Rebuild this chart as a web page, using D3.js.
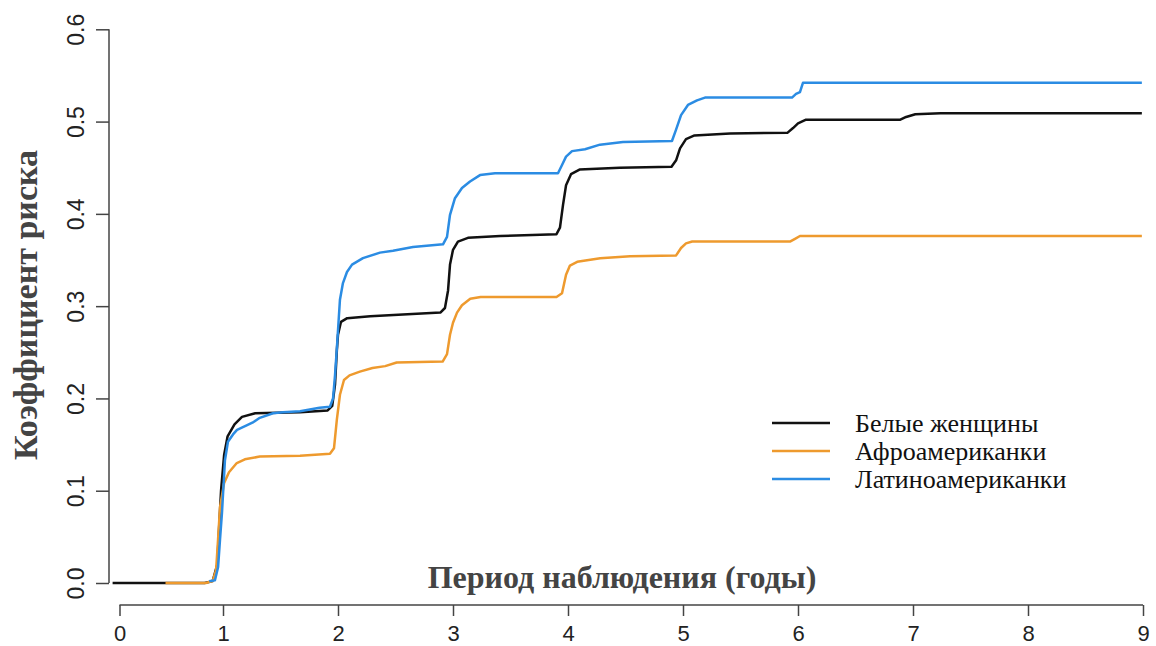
<!DOCTYPE html>
<html>
<head>
<meta charset="utf-8">
<script src="https://cdn.jsdelivr.net/npm/d3@7"></script>
<style>
  body { margin: 0; background: #fff; }
  svg { display: block; }
</style>
</head>
<body>
<svg id="chart"></svg>
<script>
// series names + colours (legend order)
const seriesNames = ["Белые женщины", "Афроамериканки", "Латиноамериканки"];
const seriesColors = ["#111111", "#ee9a2e", "#2b8ce3"];

// tick labels
const xTicks = [0, 1, 2, 3, 4, 5, 6, 7, 8, 9];
const yTicks = [0, 0.1, 0.2, 0.3, 0.4, 0.5, 0.6];

// [years, risk]
const whiteWomen = [
  [0.04, 0], [0.84, 0], [0.91, 0.002], [0.95, 0.02], [0.965, 0.057], [0.983, 0.10],
  [1.01, 0.139], [1.04, 0.159], [1.10, 0.172], [1.165, 0.18], [1.28, 0.184], [1.67, 0.185],
  [1.91, 0.187], [1.95, 0.192], [1.974, 0.215], [1.99, 0.252], [2.0, 0.269], [2.026, 0.283],
  [2.08, 0.287], [2.28, 0.289], [2.89, 0.293], [2.93, 0.298], [2.957, 0.317], [2.974, 0.345],
  [3.0, 0.361], [3.043, 0.37], [3.13, 0.374], [3.41, 0.376], [3.90, 0.378], [3.93, 0.385],
  [3.957, 0.41], [3.983, 0.431], [4.026, 0.443], [4.10, 0.448], [4.45, 0.45], [4.90, 0.451],
  [4.94, 0.458], [4.974, 0.471], [5.026, 0.481], [5.10, 0.485], [5.41, 0.487], [5.91, 0.488],
  [5.957, 0.493], [6.0, 0.498], [6.07, 0.502], [6.89, 0.502], [6.94, 0.505], [7.02, 0.508],
  [7.24, 0.509], [8.99, 0.509]
];

const africanAmerican = [
  [0.50, 0], [0.85, 0], [0.91, 0.002], [0.94, 0.014], [0.957, 0.047], [0.974, 0.082],
  [1.009, 0.108], [1.052, 0.12], [1.12, 0.13], [1.19, 0.134], [1.32, 0.137], [1.67, 0.138],
  [1.93, 0.14], [1.965, 0.146], [1.99, 0.177], [2.017, 0.204], [2.052, 0.22], [2.10, 0.225],
  [2.19, 0.229], [2.30, 0.233], [2.41, 0.235], [2.51, 0.239], [2.91, 0.24], [2.948, 0.248],
  [2.974, 0.269], [3.0, 0.282], [3.035, 0.293], [3.078, 0.301], [3.15, 0.308], [3.24, 0.31],
  [3.90, 0.31], [3.948, 0.314], [3.983, 0.334], [4.017, 0.344], [4.08, 0.348], [4.28, 0.352],
  [4.54, 0.354], [4.94, 0.355], [4.983, 0.363], [5.026, 0.368], [5.08, 0.37], [5.93, 0.37],
  [5.974, 0.373], [6.017, 0.376], [8.99, 0.376]
];

const hispanic = [
  [0.88, 0.002], [0.93, 0.003], [0.957, 0.017], [0.974, 0.047], [0.991, 0.076], [1.017, 0.133],
  [1.043, 0.153], [1.087, 0.161], [1.122, 0.166], [1.21, 0.171], [1.26, 0.174], [1.32, 0.179],
  [1.435, 0.184], [1.52, 0.185], [1.67, 0.186], [1.84, 0.19], [1.93, 0.191], [1.957, 0.2],
  [1.974, 0.225], [1.991, 0.256], [2.017, 0.307], [2.043, 0.325], [2.078, 0.337], [2.122, 0.345],
  [2.217, 0.352], [2.365, 0.358], [2.478, 0.36], [2.652, 0.364], [2.913, 0.367], [2.948, 0.375],
  [2.974, 0.399], [3.017, 0.417], [3.078, 0.428], [3.148, 0.435], [3.235, 0.442], [3.365, 0.444],
  [3.913, 0.444], [3.948, 0.453], [3.983, 0.462], [4.035, 0.468], [4.148, 0.47], [4.278, 0.475],
  [4.478, 0.478], [4.904, 0.479], [4.939, 0.491], [4.983, 0.507], [5.043, 0.518], [5.122, 0.523],
  [5.191, 0.526], [5.948, 0.526], [5.983, 0.53], [6.017, 0.532], [6.043, 0.542], [8.99, 0.542]
];

const allSeries = [whiteWomen, africanAmerican, hispanic];

const width = 1156;
const height = 646;

const svg = d3.select("#chart").attr("width", width).attr("height", height);

// scales
const x = d3.scaleLinear().domain([0, 9]).range([108, 1143]);
// the bottom axis in the picture has its "0" tick nudged right
const xAxisScale = d3.scaleLinear().domain([0, 1, 9]).range([119.5, 223, 1143]);
const y = d3.scaleLinear().domain([0, 0.6]).range([583, 29.3]);

const axisColor = "#444";

// Y axis
const yAxis = svg.append("g")
  .attr("transform", "translate(109,0)")
  .call(d3.axisLeft(y).tickValues(yTicks).tickFormat(d3.format(".1f")).tickSize(13).tickPadding(0));
yAxis.select(".domain").attr("stroke", axisColor).attr("stroke-width", 1.5).attr("d", `M0,${y(0)}V${y(0.6)}`);
yAxis.selectAll(".tick line").attr("stroke", axisColor).attr("stroke-width", 1.5);
yAxis.selectAll(".tick text")
  .attr("transform", "rotate(-90)")
  .attr("x", 0).attr("y", -25).attr("dy", 0)
  .attr("text-anchor", "middle")
  .style("font-family", "'Liberation Sans', Arial, sans-serif")
  .style("font-size", "23px")
  .attr("fill", "#222");

// X axis
const xAxis = svg.append("g")
  .attr("transform", "translate(0,605)")
  .call(d3.axisBottom(xAxisScale).tickValues(xTicks).tickFormat(d3.format("d")).tickSize(11).tickPadding(0));
xAxis.select(".domain").attr("stroke", axisColor).attr("stroke-width", 1.5)
  .attr("d", `M${xAxisScale(0)},0H${xAxisScale(9)}`);
xAxis.selectAll(".tick line").attr("stroke", axisColor).attr("stroke-width", 1.5);
xAxis.selectAll(".tick text")
  .attr("y", 36).attr("dy", 0)
  .style("font-family", "'Liberation Sans', Arial, sans-serif")
  .style("font-size", "22px")
  .attr("fill", "#222");

// curves
const line = d3.line().x((d) => x(d[0])).y((d) => y(d[1]));

svg.append("g").selectAll("path").data(allSeries).join("path")
  .attr("d", line)
  .attr("fill", "none")
  .attr("stroke", (d, i) => seriesColors[i])
  .attr("stroke-width", 2.5)
  .attr("stroke-linejoin", "round");

// axis titles
svg.append("text")
  .attr("x", 622).attr("y", 588)
  .attr("text-anchor", "middle")
  .style("font-family", "'Liberation Serif', 'Times New Roman', serif")
  .style("font-weight", "bold")
  .style("font-size", "32px")
  .attr("fill", "#444")
  .text("Период наблюдения (годы)");

svg.append("text")
  .attr("transform", "translate(37,305) rotate(-90)")
  .attr("text-anchor", "middle")
  .style("font-family", "'Liberation Serif', 'Times New Roman', serif")
  .style("font-weight", "bold")
  .style("font-size", "34px")
  .attr("fill", "#444")
  .text("Коэффициент риска");

// legend
const legend = svg.append("g").attr("transform", "translate(772,423)");
const items = legend.selectAll("g").data(seriesNames).join("g")
  .attr("transform", (d, i) => `translate(0,${i * 28})`);
items.append("line")
  .attr("x1", 0).attr("x2", 58)
  .attr("stroke", (d, i) => seriesColors[i])
  .attr("stroke-width", 2.5);
items.append("text")
  .attr("x", 83).attr("y", 9)
  .style("font-family", "'Liberation Serif', 'Times New Roman', serif")
  .style("font-size", "26px")
  .attr("fill", "#111")
  .text((d) => d);
</script>
</body>
</html>
